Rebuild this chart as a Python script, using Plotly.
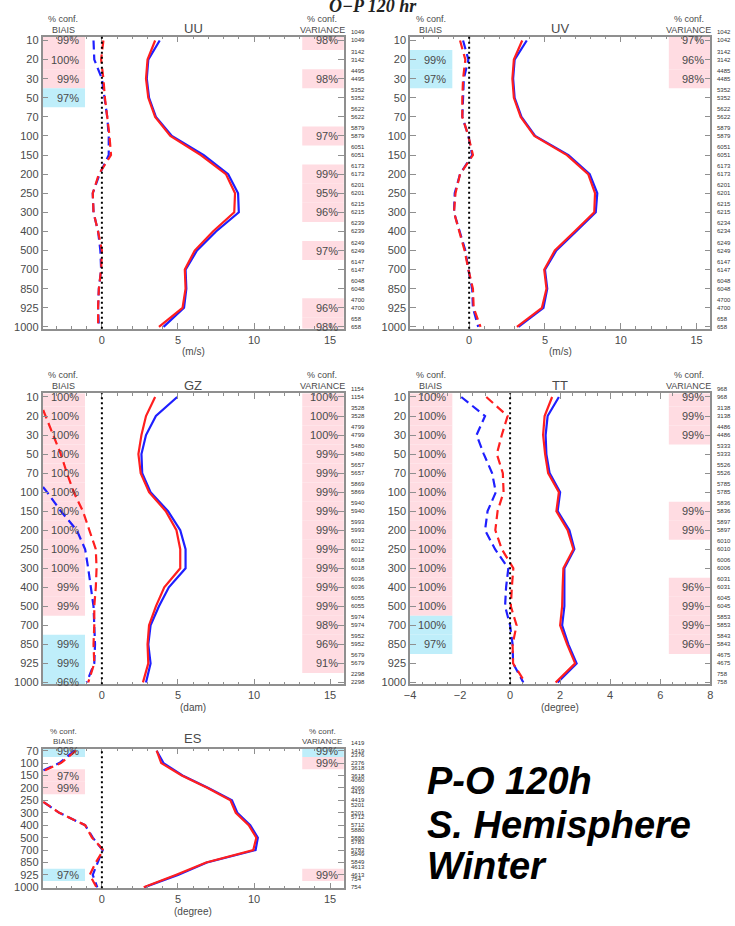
import plotly.graph_objects as go

W, H = 735, 926

# Pressure levels (hPa)
levels = [10, 20, 30, 50, 70, 100, 150, 200, 250, 300, 400, 500, 700, 850, 925, 1000]
es_levels = [70, 100, 150, 200, 250, 300, 400, 500, 700, 850, 925, 1000]

# ---- UU ----
uu_blue_sd = [3.8, 3.05, 2.95, 3.1, 3.55, 4.6, 6.7, 8.3, 8.95, 9.0, 7.5, 6.25, 5.5, 5.55, 5.4, 4.05]
uu_red_sd = [3.5, 3.0, 2.9, 3.05, 3.5, 4.5, 6.5, 8.15, 8.75, 8.7, 7.3, 6.1, 5.45, 5.5, 5.3, 3.75]
uu_blue_bias = [-0.55, -0.5, 0.0, 0.2, 0.35, 0.45, 0.45, -0.15, -0.6, -0.55, -0.25, -0.1, -0.05, -0.2, -0.25, -0.2]
uu_red_bias = [0.1, -0.05, 0.1, 0.2, 0.35, 0.5, 0.6, -0.2, -0.6, -0.55, -0.25, 0.0, -0.05, -0.2, -0.25, -0.25]
uu_bias_conf_lev = [10, 20, 30, 50]
uu_bias_conf_pct = [99, 100, 99, 97]
uu_bias_conf_fav = ["red", "red", "red", "blue"]
uu_var_conf_lev = [10, 30, 100, 200, 250, 300, 500, 925, 1000]
uu_var_conf_pct = [98, 98, 97, 99, 95, 96, 97, 96, 98]
uu_var_conf_fav = ["red"] * 9
uu_counts = [1049, 3142, 4495, 5352, 5622, 5879, 6051, 6173, 6201, 6215, 6239, 6249, 6147, 6048, 4700, 658]

# ---- UV ----
uv_blue_sd = [3.8, 3.0, 2.9, 3.0, 3.45, 4.35, 6.55, 7.95, 8.45, 8.35, 7.05, 5.75, 5.0, 5.15, 4.9, 3.25]
uv_red_sd = [3.5, 2.95, 2.85, 2.95, 3.4, 4.3, 6.45, 7.85, 8.3, 8.25, 6.95, 5.65, 4.95, 5.1, 4.8, 3.15]
uv_blue_bias = [-0.4, -0.05, -0.35, -0.4, -0.45, -0.05, 0.2, -0.6, -0.95, -1.0, -0.6, -0.25, -0.05, 0.2, 0.25, 0.6]
uv_red_bias = [-0.6, -0.25, -0.4, -0.45, -0.45, -0.05, 0.25, -0.6, -0.9, -1.0, -0.65, -0.3, -0.05, 0.25, 0.3, 0.75]
uv_bias_conf_lev = [20, 30]
uv_bias_conf_pct = [99, 97]
uv_bias_conf_fav = ["blue", "blue"]
uv_var_conf_lev = [10, 20, 30]
uv_var_conf_pct = [97, 96, 98]
uv_var_conf_fav = ["red"] * 3
uv_counts = [1042, 3142, 4485, 5352, 5622, 5879, 6051, 6173, 6201, 6215, 6234, 6249, 6147, 6048, 4700, 658]

# ---- GZ ----
gz_blue_sd = [4.95, 3.55, 2.9, 2.6, 2.65, 3.2, 4.35, 5.15, 5.5, 5.5, 4.4, 3.75, 3.2, 3.05, 3.2, 2.9]
gz_red_sd = [3.5, 2.9, 2.6, 2.4, 2.55, 3.1, 4.2, 4.9, 5.15, 5.15, 4.1, 3.55, 3.1, 3.0, 3.05, 2.7]
gz_blue_bias = [-6.2, -5.9, -5.6, -5.2, -4.6, -3.6, -2.7, -1.65, -1.1, -0.9, -0.7, -0.55, -0.5, -0.45, -0.5, -1.0]
gz_red_bias = [-4.2, -3.7, -3.25, -2.7, -2.3, -1.85, -1.25, -0.8, -0.4, -0.35, -0.4, -0.5, -0.5, -0.55, -0.5, -0.9]
gz_bias_conf_lev = [10, 20, 30, 50, 70, 100, 150, 200, 250, 300, 400, 500, 850, 925, 1000]
gz_bias_conf_pct = [100, 100, 100, 100, 100, 100, 100, 100, 100, 100, 99, 99, 99, 99, 96]
gz_bias_conf_fav = ["red"] * 12 + ["blue"] * 3
gz_var_conf_lev = [10, 20, 30, 50, 70, 100, 150, 200, 250, 300, 400, 500, 700, 850, 925]
gz_var_conf_pct = [100, 100, 100, 99, 99, 99, 99, 99, 99, 99, 99, 99, 98, 96, 91]
gz_var_conf_fav = ["red"] * 15
gz_counts = [1154, 3528, 4799, 5480, 5657, 5869, 5940, 5993, 6012, 6018, 6036, 6055, 5974, 5952, 5679, 2298]

# ---- TT ----
tt_blue_sd = [1.95, 1.5, 1.42, 1.45, 1.58, 2.0, 1.9, 2.37, 2.57, 2.17, 2.17, 2.17, 2.08, 2.33, 2.66, 1.9]
tt_red_sd = [1.68, 1.38, 1.32, 1.4, 1.52, 1.95, 1.85, 2.3, 2.53, 2.13, 2.1, 2.08, 2.0, 2.28, 2.6, 1.82]
tt_blue_bias = [-1.95, -1.0, -1.34, -1.05, -0.72, -0.57, -0.9, -1.0, -0.6, -0.07, -0.16, -0.2, 0.0, 0.1, 0.12, 0.53]
tt_red_bias = [-0.95, -0.1, -0.33, -0.53, -0.29, -0.26, -0.5, -0.59, -0.33, 0.13, 0.07, 0.03, 0.26, 0.1, 0.12, 0.6]
tt_bias_conf_lev = [10, 20, 30, 50, 70, 100, 150, 200, 250, 300, 400, 500, 700, 850]
tt_bias_conf_pct = [100] * 13 + [97]
tt_bias_conf_fav = ["red"] * 12 + ["blue"] * 2
tt_var_conf_lev = [10, 20, 30, 150, 200, 400, 500, 700, 850]
tt_var_conf_pct = [99, 99, 99, 99, 99, 96, 99, 99, 96]
tt_var_conf_fav = ["red"] * 9
tt_counts = [968, 3138, 4486, 5333, 5526, 5785, 5836, 5897, 6010, 6006, 6031, 6045, 5853, 5843, 4675, 758]

# ---- ES ----
es_blue_sd = [3.6, 4.05, 5.3, 7.0, 8.55, 8.9, 9.75, 10.25, 10.1, 6.9, 5.0, 2.8]
es_red_sd = [3.6, 3.9, 5.25, 6.95, 8.45, 8.8, 9.65, 10.15, 9.95, 6.85, 4.85, 2.75]
es_blue_bias = [-1.8, -2.8, -4.6, -5.5, -4.0, -2.8, -1.1, -0.6, 0.05, -0.3, -0.6, -0.3]
es_red_bias = [-1.7, -2.7, -4.5, -5.5, -4.0, -2.8, -1.1, -0.65, 0.1, -0.4, -0.8, -0.35]
es_bias_conf_lev = [70, 150, 200, 925]
es_bias_conf_pct = [99, 97, 99, 97]
es_bias_conf_fav = ["blue", "red", "red", "blue"]
es_var_conf_lev = [70, 100, 925]
es_var_conf_pct = [99, 99, 99]
es_var_conf_fav = ["blue", "red", "red"]
es_counts = [1419, 2376, 3618, 4060, 4419, 5201, 5712, 5880, 5783, 5849, 4613, 754]

BLUE = "#1f1fff"
RED = "#ff1f1f"
FILL = {"red": "#ffdce2", "blue": "#bfeefa"}
AXC = "#8f8f8f"
TXT = "#4a4a4a"
FONT = "Liberation Sans, Arial, sans-serif"

fig = go.Figure()
annotations = []
shapes = []


def px_x(p):
    return p / W


def px_y(p):
    return 1 - p / H


def label(x, y, text, size, color=TXT, family=FONT, xanchor="center", **kw):
    annotations.append(dict(xref="paper", yref="paper", x=px_x(x), y=px_y(y),
                            text=text, showarrow=False, xanchor=xanchor,
                            yanchor="middle",
                            font=dict(size=size, color=color, family=family), **kw))


def add_panel(n, box, xrange, dtick, minor, levs, b_sd, r_sd, b_bias, r_bias,
              bconf, vconf, counts, title, unit, ypad, yfont):
    left, top, right, bottom = box
    sfx = "" if n == 1 else str(n)
    xa, ya = "x" + sfx, "y" + sfx
    cats = [str(v) for v in levs]
    nlev = len(levs)
    yr = [nlev - 1 + ypad[1], -ypad[0]]

    for vals, col, dash in [(b_sd, BLUE, "solid"), (r_sd, RED, "solid"),
                            (b_bias, BLUE, "9px,5px"), (r_bias, RED, "9px,5px")]:
        fig.add_trace(go.Scatter(x=vals, y=cats, mode="lines", xaxis=xa, yaxis=ya,
                                 line=dict(color=col, width=2.2, dash=dash),
                                 showlegend=False, hoverinfo="skip"))

    fig.update_layout(**{
        "xaxis" + sfx: dict(domain=[px_x(left), px_x(right)], range=xrange, anchor=ya,
                            showline=True, linecolor=AXC, linewidth=1.5, mirror="ticks",
                            ticks="inside", ticklen=6, tickcolor=AXC, tickwidth=1,
                            tick0=0, dtick=dtick,
                            minor=dict(ticks="inside", ticklen=3, dtick=minor, tick0=0,
                                       tickcolor=AXC, showgrid=False),
                            showgrid=False, zeroline=False,
                            tickfont=dict(size=11, color=TXT, family=FONT)),
        "yaxis" + sfx: dict(domain=[px_y(bottom), px_y(top)], type="category",
                            categoryarray=cats, range=yr, anchor=xa,
                            tickmode="array", tickvals=cats, ticktext=cats,
                            showline=True, linecolor=AXC, linewidth=1.5, mirror="ticks",
                            ticks="inside", ticklen=6, tickcolor=AXC,
                            showgrid=False, zeroline=False,
                            tickfont=dict(size=yfont, color=TXT, family=FONT)),
    })

    # confidence boxes with percentages
    for (clev, cpct, cfav), (x0, x1, xt) in [(bconf, (0, 0.141, 0.128)),
                                             (vconf, (0.862, 1.0, 0.987))]:
        for lv, pc, fv in zip(clev, cpct, cfav):
            i = levs.index(lv)
            y0 = max(i - 0.5, yr[1])
            y1 = min(i + 0.5, yr[0])
            shapes.append(dict(type="rect", xref=xa + " domain", yref=ya,
                               x0=x0, x1=x1, y0=y0, y1=y1, layer="below",
                               fillcolor=FILL[fv], line=dict(width=0)))
            annotations.append(dict(xref=xa + " domain", yref=ya, x=xt, y=i,
                                    text=f"{pc}%", showarrow=False, xanchor="right",
                                    yanchor="middle",
                                    font=dict(size=11, color=TXT, family=FONT)))

    # zero reference line
    shapes.append(dict(type="line", xref=xa, yref=ya + " domain", x0=0, x1=0, y0=0, y1=1,
                       line=dict(color="black", width=2, dash="2px,3px")))

    # sample counts on the right
    for i, c in enumerate(counts):
        annotations.append(dict(xref="paper", yref=ya, x=px_x(right + 5), y=i,
                                text=f"{c}<br>{c}", showarrow=False, xanchor="left",
                                yanchor="bottom", yshift=-5,
                                font=dict(size=6, color="#333", family=FONT)))

    if n != 5:
        label((left + right) / 2, top - 8, title, 13)
        c1, c2, hs = top - 18, top - 7, 9
    else:
        label((left + right) / 2, top - 10, title, 13)
        c1, c2, hs = top - 17, top - 7, 8
    for cx, word in [(left + 21, "BIAIS"), (right - 22, "VARIANCE")]:
        label(cx, c1, "% conf.", hs)
        label(cx, c2, word, hs)
    label((left + right) / 2, bottom + 23, unit, 10)


add_panel(1, (37, 33, 342, 328), [-3.9, 15.9], 5, 1, levels,
          uu_blue_sd, uu_red_sd, uu_blue_bias, uu_red_bias,
          (uu_bias_conf_lev, uu_bias_conf_pct, uu_bias_conf_fav),
          (uu_var_conf_lev, uu_var_conf_pct, uu_var_conf_fav),
          uu_counts, "UU", "(m/s)", (0.2, 0.1), 11)
add_panel(2, (409, 33, 713, 328), [-3.9, 15.9], 5, 1, levels,
          uv_blue_sd, uv_red_sd, uv_blue_bias, uv_red_bias,
          (uv_bias_conf_lev, uv_bias_conf_pct, uv_bias_conf_fav),
          (uv_var_conf_lev, uv_var_conf_pct, uv_var_conf_fav),
          uv_counts, "UV", "(m/s)", (0.2, 0.1), 11)
add_panel(3, (37, 393, 342, 687), [-3.9, 15.9], 5, 1, levels,
          gz_blue_sd, gz_red_sd, gz_blue_bias, gz_red_bias,
          (gz_bias_conf_lev, gz_bias_conf_pct, gz_bias_conf_fav),
          (gz_var_conf_lev, gz_var_conf_pct, gz_var_conf_fav),
          gz_counts, "GZ", "(dam)", (0.2, 0.1), 11)
add_panel(4, (409, 393, 713, 687), [-4, 8], 2, 0.5, levels,
          tt_blue_sd, tt_red_sd, tt_blue_bias, tt_red_bias,
          (tt_bias_conf_lev, tt_bias_conf_pct, tt_bias_conf_fav),
          (tt_var_conf_lev, tt_var_conf_pct, tt_var_conf_fav),
          tt_counts, "TT", "(degree)", (0.2, 0.1), 11)
add_panel(5, (37, 752, 342, 893), [-3.9, 15.9], 5, 1, es_levels,
          es_blue_sd, es_red_sd, es_blue_bias, es_red_bias,
          (es_bias_conf_lev, es_bias_conf_pct, es_bias_conf_fav),
          (es_var_conf_lev, es_var_conf_pct, es_var_conf_fav),
          es_counts, "ES", "(degree)", (0.16, 0.08), 11)

# figure heading, partially above the page edge
label(372, 2, "<b><i>O\u2212P 120 hr</i></b>", 18, color="#222",
      family="Liberation Serif, serif")

# caption block
for txt, yy in [("P-O 120h", 785), ("S. Hemisphere", 829), ("Winter", 870)]:
    label(424, yy, f"<b><i>{txt}</i></b>", 38, color="black", xanchor="left")

fig.update_layout(width=W, height=H, margin=dict(l=0, r=0, t=0, b=0),
                  paper_bgcolor="white", plot_bgcolor="white",
                  shapes=shapes, annotations=annotations, showlegend=False)

fig.write_html("out.html")
